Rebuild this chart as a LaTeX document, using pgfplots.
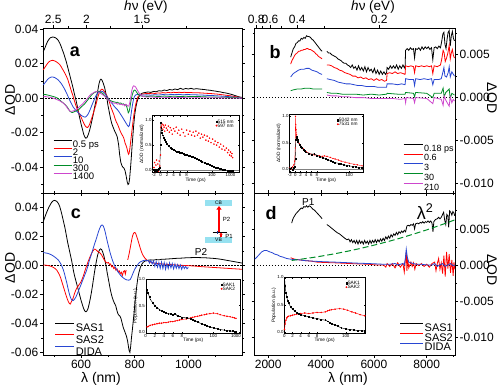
\documentclass[border=0pt]{standalone}
\usepackage{fontspec}
\setmainfont{Liberation Sans}
\usepackage{pgfplots}
\pgfplotsset{compat=1.18}
\usetikzlibrary{arrows.meta}
\definecolor{oblue}{RGB}{40,70,210}
\definecolor{ogreen}{RGB}{0,140,40}
\definecolor{omag}{RGB}{205,70,205}
\definecolor{ored}{RGB}{255,0,0}
\definecolor{bandcyan}{RGB}{150,225,240}
\newcommand{\fs}[1]{\fontsize{#1}{#1}\selectfont}
\pgfplotsset{
 mainax/.style={scale only axis, anchor=south west, axis line style={line width=0.9pt},
   every tick/.style={line width=0.7pt, black}, major tick length=3pt, minor tick length=1.8pt,
   tick align=outside, tick label style={font=\fs{12}, inner sep=1.5pt}, scaled ticks=false,
   unbounded coords=jump, every axis plot/.append style={line width=0.8pt},
   legend cell align=left,
   legend image code/.code={\draw[#1] (0pt,3.3pt) -- (18pt,3.3pt);}},
 topax/.style={scale only axis, anchor=south west, axis x line*=top, axis y line=none,
   tick align=outside, major tick length=3pt, minor tick length=1.8pt,
   every tick/.style={line width=0.7pt,black}, tick label style={font=\fs{12}, inner sep=1.2pt},
   xticklabel pos=top, axis line style={line width=0.9pt}, ymin=0, ymax=1},
 inset/.style={scale only axis, anchor=south west, axis background/.style={fill=white},
   axis line style={line width=0.4pt}, every tick/.style={line width=0.3pt, black},
   major tick length=1.2pt, tick align=inside,
   tick label style={font=\fs{4.4}, inner sep=0.6pt},
   label style={font=\fs{4.8}, inner sep=0.4pt}, xlabel={Time (ps)},
   ytick={0,0.5,1}, yticklabels={0.0,0.5,1.0},
   legend style={draw=none, fill=none, font=\fs{4.8}, at={(0.98,0.97)}, anchor=north east,
     nodes={inner sep=0.4pt, text height=3.2pt, text depth=0pt}},
   legend cell align=left},
 zl/.style={black, line width=0.8pt, dash pattern=on 1.5pt off 1.5pt, forget plot},
}
\begin{document}
\begin{tikzpicture}[x=1pt,y=1pt]
\useasboundingbox (0,0) rectangle (500,386);

% ---------------- panel a
\begin{axis}[mainax, at={(43pt,193pt)}, width=199pt, height=165pt,
  xmin=458, xmax=1200, ymin=-0.0549, ymax=0.0406,
  xtick={600,800,1000}, minor xtick={500,700,900,1100}, xticklabels={}, xtick pos=left,
  ytick={-0.04,-0.02,0,0.02,0.04}, yticklabels={-0.04,-0.02,0.00,0.02,0.04},
  minor ytick={-0.05,-0.03,-0.01,0.01,0.03}, ytick pos=both, yticklabel pos=left,
  legend style={at={(0.035,0.335)}, anchor=north west, draw=none, fill=none, font=\fs{9.5},
    nodes={text height=6.1pt, text depth=0pt, inner sep=1pt}}]
\addplot[zl] coordinates {(400,0) (1300,0)};
\addplot[black] coordinates {(459,0.027)(465,0.029)(470,0.031)(475,0.0328)(480,0.034)(485,0.0349)(490,0.0352)(495,0.0354)(500,0.0352)(505,0.0349)(510,0.0343)(515,0.0334)(520,0.032)(525,0.0302)(530,0.028)(535,0.026)(540,0.0235)(545,0.021)(550,0.018)(555,0.015)(560,0.012)(565,0.009)(570,0.006)(575,0.0025)(580,-0.0005)(585,-0.004)(590,-0.008)(595,-0.0115)(600,-0.015)(605,-0.018)(610,-0.021)(614,-0.0225)(618,-0.0232)(622,-0.0228)(627,-0.021)(632,-0.0185)(636,-0.016)(641,-0.0125)(646,-0.009)(650,-0.0055)(655,-0.002)(659,0.0015)(663,0.005)(667,0.0085)(671,0.0105)(674,0.011)(678,0.0104)(683,0.0085)(688,0.006)(692,0.003)(696,0.0003)(700,-0.004)(705,-0.008)(710,-0.012)(715,-0.015)(720,-0.017)(725,-0.019)(730,-0.0205)(735,-0.0225)(740,-0.027)(744,-0.033)(748,-0.037)(752,-0.039)(756,-0.040)(760,-0.0405)(764,-0.042)(768,-0.045)(772,-0.0485)(775,-0.0500)(778,-0.0495)(781,-0.0465)(784,-0.041)(787,-0.035)(790,-0.028)(793,-0.022)(796,-0.016)(800,-0.0095)(804,-0.0055)(808,-0.0025)(812,-0.0005)(818,0.0015)(824,0.0025)(830,0.003)(840,0.0033)(850,0.0036)(860,0.0033)(870,0.0039)(880,0.0037)(890,0.0043)(900,0.0041)(910,0.0047)(920,0.0044)(930,0.005)(940,0.0047)(950,0.0053)(960,0.0049)(970,0.0057)(980,0.0051)(990,0.0056)(1000,0.0053)(1010,0.0057)(1020,0.0052)(1030,0.0055)(1040,0.0053)(1050,0.0051)(1060,0.005)(1070,0.0047)(1080,0.0046)(1090,0.0043)(1100,0.0041)(1110,0.0038)(1120,0.0036)(1130,0.0032)(1140,0.003)(1150,0.0026)(1160,0.0022)(1170,0.0017)(1180,0.0012)(1190,0.0007)(1200,0.0004)};
\addlegendentry{0.5 ps}
\addplot[ored] coordinates {(459,0.0164)(465,0.0178)(470,0.019)(475,0.0201)(480,0.021)(485,0.0215)(490,0.0218)(495,0.0219)(500,0.0216)(505,0.0213)(510,0.0208)(515,0.0202)(520,0.0195)(525,0.0184)(530,0.017)(535,0.0157)(540,0.0143)(545,0.0127)(550,0.011)(555,0.0085)(560,0.006)(565,0.0035)(570,0.0012)(575,-0.0015)(580,-0.004)(585,-0.006)(590,-0.008)(595,-0.0095)(600,-0.011)(605,-0.0128)(610,-0.0145)(615,-0.016)(620,-0.0168)(624,-0.017)(628,-0.0164)(632,-0.015)(636,-0.0133)(640,-0.0115)(645,-0.009)(650,-0.0065)(655,-0.004)(659,-0.0015)(663,0.0008)(667,0.0028)(671,0.0042)(675,0.005)(678,0.0052)(682,0.0048)(687,0.0038)(692,0.0025)(697,0.0012)(702,-0.0005)(707,-0.003)(712,-0.0055)(717,-0.0075)(722,-0.0095)(727,-0.012)(732,-0.014)(737,-0.0155)(742,-0.0175)(747,-0.0195)(752,-0.021)(756,-0.022)(760,-0.0235)(764,-0.026)(768,-0.0275)(771,-0.029)(774,-0.031)(777,-0.0325)(779,-0.032)(782,-0.029)(785,-0.025)(788,-0.021)(791,-0.017)(794,-0.013)(797,-0.0095)(800,-0.0065)(804,-0.0035)(808,-0.001)(812,0.0008)(818,0.0018)(826,0.0023)(835,0.0025)(845,0.0027)(855,0.0026)(865,0.0029)(875,0.0027)(885,0.003)(895,0.0029)(905,0.0032)(915,0.003)(925,0.0033)(935,0.0031)(945,0.0034)(955,0.0032)(965,0.0034)(975,0.0032)(985,0.0034)(995,0.0032)(1005,0.0033)(1020,0.0031)(1035,0.0031)(1050,0.003)(1065,0.0028)(1080,0.0027)(1095,0.0025)(1110,0.0023)(1125,0.002)(1140,0.0017)(1155,0.0014)(1170,0.001)(1185,0.0006)(1200,0.0003)};
\addlegendentry{2}
\addplot[oblue] coordinates {(459,0.0077)(465,0.0088)(470,0.0098)(475,0.0108)(480,0.0115)(485,0.012)(490,0.0122)(495,0.0122)(500,0.012)(505,0.0116)(510,0.0111)(515,0.0105)(520,0.0096)(525,0.0087)(530,0.0075)(535,0.0062)(540,0.0048)(545,0.0032)(550,0.0015)(555,-0.0003)(560,-0.002)(565,-0.0035)(570,-0.005)(575,-0.006)(580,-0.007)(585,-0.0078)(590,-0.0085)(595,-0.0092)(600,-0.0099)(605,-0.0104)(610,-0.0108)(615,-0.011)(620,-0.0105)(625,-0.0095)(630,-0.008)(635,-0.0062)(640,-0.0042)(645,-0.0023)(650,-0.0005)(655,0.0013)(660,0.0026)(665,0.0034)(670,0.0039)(675,0.004)(680,0.0038)(685,0.0033)(690,0.0025)(695,0.0013)(700,0.0)(705,-0.0011)(710,-0.002)(715,-0.003)(720,-0.004)(725,-0.005)(730,-0.0058)(735,-0.0066)(740,-0.0076)(745,-0.0088)(750,-0.01)(755,-0.0112)(760,-0.0125)(765,-0.0138)(769,-0.0148)(773,-0.0158)(777,-0.0165)(780,-0.0158)(783,-0.013)(786,-0.0098)(789,-0.0065)(792,-0.0035)(795,-0.001)(799,0.001)(804,0.0019)(810,0.0021)(818,0.002)(830,0.0018)(845,0.0019)(860,0.0017)(875,0.002)(890,0.0018)(905,0.0021)(920,0.0019)(935,0.0021)(950,0.002)(965,0.0022)(980,0.0019)(995,0.0021)(1010,0.002)(1030,0.0019)(1050,0.0018)(1070,0.0016)(1090,0.0015)(1110,0.0013)(1130,0.0011)(1150,0.0009)(1170,0.0006)(1185,0.0003)(1200,0.0001)};
\addlegendentry{10}
\addplot[ogreen] coordinates {(459,0.002)(467,0.0021)(475,0.0018)(483,0.0015)(490,0.0012)(498,0.0009)(505,0.0005)(512,0.0)(520,-0.001)(527,-0.002)(535,-0.003)(542,-0.004)(548,-0.005)(553,-0.0063)(558,-0.0075)(562,-0.008)(566,-0.0083)(570,-0.0082)(575,-0.0078)(580,-0.0075)(585,-0.0072)(590,-0.0068)(595,-0.006)(600,-0.0052)(605,-0.0045)(610,-0.0038)(615,-0.003)(620,-0.002)(625,-0.001)(630,0.0)(635,0.001)(640,0.002)(645,0.0027)(650,0.0032)(655,0.0036)(660,0.0038)(665,0.0038)(670,0.0035)(675,0.0032)(680,0.0028)(685,0.002)(690,0.0012)(695,0.0003)(700,-0.0005)(706,-0.0012)(712,-0.0016)(718,-0.002)(724,-0.0022)(730,-0.0025)(736,-0.0024)(742,-0.003)(748,-0.0028)(753,-0.0035)(758,-0.0033)(762,-0.004)(766,-0.0038)(770,-0.0048)(773,-0.0065)(776,-0.0085)(779,-0.0078)(782,-0.0055)(785,-0.0025)(788,0.0)(791,0.002)(794,0.0035)(797,0.0045)(800,0.0047)(804,0.0042)(808,0.0032)(813,0.0022)(820,0.0014)(830,0.0011)(850,0.001)(870,0.0012)(890,0.0009)(910,0.0012)(930,0.001)(950,0.0011)(970,0.0009)(990,0.0011)(1010,0.0009)(1040,0.0009)(1070,0.0007)(1100,0.0006)(1130,0.0005)(1160,0.0004)(1200,0.0001)};
\addlegendentry{300}
\addplot[omag] coordinates {(459,0.0008)(467,0.0009)(475,0.0007)(483,0.0005)(490,0.0003)(498,-0.0001)(505,-0.0005)(512,-0.001)(520,-0.0015)(527,-0.0022)(535,-0.003)(542,-0.0042)(548,-0.0055)(553,-0.0066)(558,-0.0075)(563,-0.0076)(568,-0.0075)(573,-0.0073)(578,-0.007)(584,-0.0063)(590,-0.0055)(597,-0.0045)(605,-0.0035)(612,-0.0022)(620,-0.001)(626,0.0003)(632,0.0015)(638,0.0024)(645,0.003)(650,0.0035)(655,0.0038)(660,0.0037)(665,0.0035)(670,0.003)(675,0.0025)(680,0.002)(685,0.0015)(690,0.0008)(695,0.0)(700,-0.0008)(705,-0.0015)(710,-0.002)(715,-0.0025)(720,-0.0028)(725,-0.003)(730,-0.0028)(735,-0.0035)(740,-0.0032)(745,-0.0037)(750,-0.0034)(755,-0.004)(759,-0.0036)(763,-0.0045)(767,-0.0035)(771,-0.004)(775,-0.0047)(778,-0.0045)(781,-0.003)(784,-0.0005)(787,0.0025)(790,0.005)(793,0.0065)(796,0.0071)(799,0.007)(803,0.0065)(807,0.0055)(811,0.0043)(816,0.003)(822,0.0018)(830,0.001)(845,0.0006)(860,0.0007)(880,0.0004)(900,0.0006)(920,0.0003)(940,0.0005)(960,0.0003)(980,0.0004)(1000,0.0002)(1030,0.0003)(1060,0.0002)(1100,0.0002)(1150,0.0001)(1200,0.0)};
\addlegendentry{1400}
\end{axis}
\begin{axis}[topax, at={(43pt,193pt)}, width=199pt, height=165pt, xmin=458, xmax=1200,
  xtick={496,620,826.7}, xticklabels={2.5,2,1.5}, minor xtick={551.1,708.6,992}]
\end{axis}

% inset a
\begin{axis}[inset, at={(152.3pt,213.5pt)}, width=86.7pt, height=56.8pt,
  xmin=-2.5, xmax=24, ymin=-0.05, ymax=1.09,
  x filter/.expression={min(x,10)+2.4755*ln(max(x,10)/10)},
  xtick={-2,0,2,4,6,8,15.7,21.4}, xticklabels={-2,0,2,4,6,8,100,1000},
  ylabel={ΔOD (normalized)}]
\addlegendimage{only marks, mark=square*, mark size=0.7pt, black}
\addlegendentry{515 nm}
\addlegendimage{only marks, mark=*, mark size=0.7pt, ored}
\addlegendentry{597 nm}
\addplot[gray, line width=0.3pt, forget plot] coordinates {(-5,0)(3000,0)};
\addplot[ored, only marks, mark=*, mark size=0.55pt, forget plot] coordinates {(-2,0.05)(-1.8,0.15)(-1.6,-0.03)(-1.4,0.1)(-1.2,0.2)(-1.0,0.0)(-0.8,0.12)(-0.6,-0.02)(-0.4,0.18)(-0.2,0.08)(0,0.3)(0.1,0.85)(0.2,0.95)(0.3,0.88)(0.5,0.92)(0.7,0.82)(0.9,0.9)(1.1,0.86)(1.3,0.78)(1.5,0.9)(1.8,0.84)(2.1,0.8)(2.4,0.88)(2.7,0.76)(3,0.85)(3.3,0.8)(3.6,0.72)(4,0.83)(4.4,0.78)(4.8,0.86)(5.2,0.74)(5.6,0.8)(6,0.7)(6.5,0.82)(7,0.75)(7.5,0.68)(8,0.8)(8.5,0.72)(9,0.78)(9.5,0.7)(10,0.76)(12,0.68)(14,0.78)(17,0.7)(20,0.74)(24,0.64)(28,0.72)(33,0.66)(40,0.7)(48,0.6)(56,0.68)(65,0.58)(75,0.64)(90,0.55)(110,0.62)(130,0.52)(150,0.58)(180,0.5)(210,0.55)(250,0.46)(300,0.52)(350,0.42)(420,0.48)(500,0.4)(600,0.44)(700,0.35)(800,0.4)(900,0.3)(1000,0.36)(1100,0.28)(1200,0.33)(1300,0.25)};
\addplot[black, line width=0.35pt, mark=square*, mark size=0.45pt, forget plot] coordinates {(-2,0.0)(-1.7,-0.02)(-1.4,0.01)(-1.1,-0.01)(-0.8,0.0)(-0.5,0.02)(-0.2,0.05)(0,0.5)(0.1,0.95)(0.2,0.85)(0.3,0.8)(0.5,0.75)(0.7,0.7)(1,0.64)(1.3,0.6)(1.6,0.56)(2,0.52)(2.5,0.48)(3,0.45)(3.5,0.43)(4,0.41)(4.5,0.39)(5,0.37)(5.5,0.36)(6,0.35)(6.5,0.34)(7,0.32)(7.5,0.31)(8,0.3)(8.5,0.29)(9,0.28)(9.5,0.27)(10,0.26)(12,0.24)(15,0.22)(20,0.2)(25,0.18)(30,0.17)(40,0.15)(50,0.13)(60,0.12)(80,0.1)(100,0.08)(130,0.07)(160,0.05)(200,0.04)(250,0.03)(300,0.02)(400,0.01)(500,0.0)(700,-0.01)(900,-0.01)(1100,-0.02)(1300,-0.02)};
\end{axis}

% ---------------- panel b
\begin{axis}[mainax, at={(254.7pt,193pt)}, width=200.3pt, height=165pt,
  xmin=1490, xmax=9070, ymin=-0.0111, ymax=0.0081,
  xtick={2000,4000,6000,8000}, minor xtick={3000,5000,7000,9000}, xticklabels={}, xtick pos=left,
  ytick={-0.01,-0.005,0,0.005}, yticklabels={-0.010,-0.005,0.000,0.005},
  minor ytick={-0.0075,-0.0025,0.0025,0.0075}, ytick pos=both, yticklabel pos=right,
  legend style={at={(0.725,0.32)}, anchor=north west, draw=none, fill=none, font=\fs{9},
    nodes={text height=7.6pt, text depth=0pt, inner sep=1.1pt}},
  legend image code/.code={\draw[#1] (0pt,3.1pt) -- (19pt,3.1pt);}]
\addplot[zl] coordinates {(1000,0) (9500,0)};
\addplot[black] coordinates {(2850,0.0047)(2900,0.0052)(2950,0.0057)(3000,0.0059)(3050,0.0063)(3100,0.0064)(3150,0.0066)(3200,0.0066)(3250,0.0069)(3300,0.0068)(3350,0.007)(3400,0.0069)(3450,0.0072)(3500,0.0071)(3550,0.0071)(3600,0.007)(3650,0.0068)(3700,0.0067)(3750,0.0065)(3800,0.0063)(3850,0.0061)(3900,0.0059)(3950,0.0057)(4000,0.0055)(4040,0.0054)(4130,nan)(4220,0.0054)(4280,0.0052)(4340,0.0052)(4400,0.005)(4460,0.0049)(4520,0.0048)(4580,0.0047)(4640,0.0045)(4700,0.0044)(4760,0.0043)(4820,0.0041)(4880,0.004)(4940,0.004)(5000,0.0038)(5060,0.0037)(5120,0.0035)(5180,0.0038)(5240,0.0034)(5300,0.0036)(5360,0.0032)(5420,0.0037)(5480,0.0032)(5540,0.0035)(5600,0.0031)(5660,0.0036)(5720,0.003)(5780,0.0035)(5840,0.0031)(5900,0.0033)(5960,0.0029)(6020,0.0034)(6080,0.0028)(6140,0.0032)(6200,0.0027)(6260,0.0031)(6320,0.0027)(6380,0.003)(6440,0.0027)(6480,0.0029)(6500,0.0035)(6560,0.0033)(6620,0.0037)(6680,0.0034)(6740,0.0037)(6800,0.0034)(6860,0.0038)(6920,0.0033)(6980,0.0037)(7040,0.0034)(7100,0.0038)(7150,0.0035)(7180,0.0034)(7200,0.0055)(7260,0.0057)(7320,0.0055)(7380,0.0058)(7440,0.0056)(7500,0.0057)(7540,0.0046)(7580,0.0057)(7640,0.0056)(7700,0.0058)(7760,0.0055)(7820,0.0059)(7880,0.0056)(7940,0.0059)(8000,0.0057)(8060,0.0059)(8120,0.0056)(8180,0.0058)(8230,0.0044)(8280,0.0058)(8340,0.0059)(8400,0.0057)(8460,0.006)(8520,0.0058)(8570,0.0066)(8610,0.0074)(8650,0.0076)(8690,0.0062)(8730,0.0057)(8770,0.0068)(8810,0.0076)(8850,0.0078)(8890,0.006)(8930,0.0072)(8970,0.0077)(9010,0.0069)(9050,0.0066)};
\addlegendentry{0.18 ps}
\addplot[ored] coordinates {(2850,0.0039)(2900,0.0043)(2950,0.0046)(3000,0.0049)(3050,0.0051)(3100,0.0052)(3150,0.0054)(3200,0.0054)(3250,0.0055)(3300,0.0055)(3350,0.0056)(3400,0.0056)(3450,0.0057)(3500,0.0057)(3550,0.0056)(3600,0.0056)(3650,0.0055)(3700,0.0054)(3750,0.0053)(3800,0.0051)(3850,0.005)(3900,0.0048)(3950,0.0047)(4000,0.0046)(4040,0.0045)(4130,nan)(4220,0.0038)(4300,0.0038)(4400,0.0037)(4500,0.0035)(4600,0.0034)(4700,0.0032)(4800,0.0031)(4900,0.0029)(5000,0.0028)(5100,0.0027)(5200,0.0025)(5300,0.0025)(5400,0.0023)(5500,0.0024)(5600,0.0022)(5700,0.0023)(5800,0.0021)(5900,0.0022)(6000,0.002)(6100,0.0022)(6200,0.002)(6300,0.0021)(6400,0.0019)(6480,0.002)(6500,0.0028)(6600,0.0029)(6700,0.0028)(6800,0.003)(6900,0.0028)(7000,0.0029)(7100,0.0028)(7180,0.0027)(7200,0.0037)(7300,0.0036)(7400,0.0037)(7500,0.0036)(7540,0.0029)(7580,0.0037)(7700,0.0036)(7800,0.0037)(7900,0.0036)(8000,0.0037)(8100,0.0036)(8180,0.0037)(8230,0.0028)(8280,0.0037)(8400,0.0036)(8520,0.0038)(8570,0.0045)(8620,0.0055)(8660,0.0052)(8700,0.0042)(8750,0.0046)(8800,0.0052)(8850,0.0061)(8890,0.0045)(8930,0.0052)(8970,0.0056)(9010,0.0049)(9050,0.0046)};
\addlegendentry{0.6}
\addplot[oblue] coordinates {(2850,0.0024)(2950,0.0028)(3050,0.003)(3150,0.0032)(3250,0.0033)(3350,0.0033)(3450,0.0034)(3550,0.0034)(3650,0.0032)(3750,0.0031)(3850,0.003)(3950,0.0028)(4040,0.0027)(4130,nan)(4220,0.0022)(4350,0.0021)(4500,0.002)(4650,0.0018)(4800,0.0017)(4950,0.0016)(5100,0.0016)(5250,0.0015)(5400,0.0014)(5550,0.0014)(5700,0.0013)(5850,0.0013)(6000,0.0013)(6150,0.0012)(6300,0.0012)(6480,0.0012)(6500,0.0016)(6700,0.0016)(6900,0.0015)(7050,0.0016)(7180,0.0015)(7200,0.0022)(7350,0.0021)(7500,0.0021)(7540,0.0014)(7580,0.0022)(7750,0.0021)(7900,0.0022)(8050,0.0021)(8180,0.0022)(8230,0.0015)(8280,0.0021)(8450,0.0021)(8550,0.0022)(8600,0.0028)(8650,0.0035)(8690,0.0025)(8750,0.0024)(8810,0.0029)(8850,0.0036)(8890,0.0024)(8950,0.003)(9010,0.0027)(9050,0.0025)};
\addlegendentry{3}
\addplot[ogreen] coordinates {(2850,0.0008)(2950,0.0009)(3100,0.001)(3250,0.001)(3400,0.0011)(3550,0.0011)(3700,0.001)(3850,0.001)(4040,0.001)(4130,nan)(4220,0.0006)(4400,0.0005)(4600,0.0005)(4800,0.0004)(5000,0.0004)(5300,0.0004)(5600,0.0003)(5900,0.0004)(6200,0.0003)(6480,0.0004)(6500,0.0005)(6900,0.0004)(7180,0.0004)(7200,0.0006)(7500,0.0005)(7540,0.0001)(7580,0.0006)(8000,0.0005)(8230,0.0)(8280,0.0005)(8550,0.0005)(8620,0.0011)(8660,0.0001)(8720,0.0006)(8850,0.001)(8890,-0.0001)(8950,0.0005)(9050,0.0003)};
\addlegendentry{30}
\addplot[omag] coordinates {(4220,0.0003)(4400,0.0002)(4600,0.0002)(4800,0.0001)(5000,0.0001)(5300,0.0)(5600,0.0)(5900,-0.0001)(6200,-0.0001)(6480,-0.0001)(6700,-0.0001)(7000,-0.0002)(7180,-0.0001)(7200,-0.0006)(7230,0.0)(7500,-0.0001)(7540,-0.0006)(7580,0.0)(8000,-0.0001)(8230,-0.0007)(8280,0.0)(8550,-0.0002)(8620,-0.0009)(8660,0.0002)(8720,-0.0003)(8850,-0.001)(8890,0.0001)(8950,-0.0006)(9000,-0.0002)(9050,-0.0004)};
\addlegendentry{210}
\end{axis}
\begin{axis}[topax, at={(254.7pt,193pt)}, width=200.3pt, height=165pt, xmin=1490, xmax=9070,
  xtick={1550,2066.7,3100,6200}, xticklabels={0.8,0.6,0.4,0.2}, minor xtick={1771.4,2480,4133.3}]
\end{axis}

% inset b
\begin{axis}[inset, at={(289.3pt,213.3pt)}, width=73.4pt, height=58.4pt,
  xmin=-2.2, xmax=25, ymin=-0.07, ymax=1.04,
  x filter/.expression={min(x,10)+4.3429*ln(max(x,10)/10)},
  xtick={-2,0,2,4,6,8,20}, xticklabels={-2,0,2,4,6,8,100},
  ylabel={ΔOD (normalized)}]
\addlegendimage{only marks, mark=square*, mark size=0.7pt, black}
\addlegendentry{5042 nm}
\addlegendimage{only marks, mark=*, mark size=0.7pt, ored}
\addlegendentry{7531 nm}
\addplot[gray, line width=0.3pt, forget plot] coordinates {(-5,0)(3000,0)};
\addplot[ored, line width=0.35pt, mark=*, mark size=0.45pt, forget plot] coordinates {(-2,0.02)(-1.5,0.0)(-1,0.04)(-0.5,0.08)(-0.2,0.15)(0,0.4)(0.1,1.0)(0.2,0.85)(0.3,0.75)(0.5,0.65)(0.7,0.6)(1,0.55)(1.5,0.48)(2,0.44)(2.5,0.41)(3,0.38)(3.5,0.35)(4,0.33)(5,0.3)(6,0.28)(7,0.27)(8,0.26)(9,0.25)(10,0.24)(12,0.25)(15,0.24)(20,0.22)(25,0.2)(30,0.19)(40,0.17)(50,0.15)(70,0.13)(100,0.11)(150,0.09)(200,0.08)(300,0.06)};
\addplot[black, line width=0.35pt, mark=square*, mark size=0.45pt, forget plot] coordinates {(-2,0.0)(-1.5,0.02)(-1.0,-0.01)(-0.5,0.03)(-0.2,0.05)(0,0.2)(0.2,0.55)(0.4,0.62)(0.6,0.58)(0.8,0.55)(1,0.52)(1.5,0.47)(2,0.43)(2.5,0.4)(3,0.37)(3.5,0.35)(4,0.32)(5,0.3)(6,0.28)(7,0.29)(8,0.26)(9,0.24)(10,0.22)(13,0.2)(16,0.18)(20,0.16)(25,0.14)(30,0.12)(40,0.11)(50,0.1)(60,0.08)(80,0.07)(100,0.06)(130,0.05)(170,0.04)(220,0.03)(300,0.02)};
\end{axis}

% ---------------- panel c
\begin{axis}[mainax, at={(43pt,31pt)}, width=199pt, height=162pt,
  xmin=458, xmax=1200, ymin=-0.0616, ymax=0.0501,
  xtick={600,800,1000}, minor xtick={500,700,900,1100}, xticklabels={600,800,1000}, xtick pos=both, xticklabel pos=left,
  ytick={-0.06,-0.04,-0.02,0,0.02,0.04}, yticklabels={-0.06,-0.04,-0.02,0.00,0.02,0.04},
  minor ytick={-0.05,-0.03,-0.01,0.01,0.03,0.05}, ytick pos=both, yticklabel pos=left,
  legend style={at={(0.044,0.222)}, anchor=north west, draw=none, fill=none, font=\fs{11},
    nodes={text height=9.7pt, text depth=0pt, inner sep=1pt}},
  legend image code/.code={\draw[#1] (0pt,3.9pt) -- (19pt,3.9pt);}]
\addplot[zl] coordinates {(400,0) (1300,0)};
\addplot[black] coordinates {(459,0.0304)(465,0.0335)(470,0.036)(475,0.0382)(480,0.0403)(485,0.042)(490,0.0436)(495,0.0446)(500,0.045)(505,0.0448)(510,0.0442)(515,0.043)(520,0.041)(525,0.0378)(530,0.034)(535,0.03)(540,0.026)(545,0.021)(550,0.016)(555,0.0118)(560,0.0075)(565,0.0033)(571,-0.003)(575,-0.0065)(580,-0.01)(585,-0.0135)(590,-0.0168)(595,-0.0205)(600,-0.024)(605,-0.027)(610,-0.0298)(614,-0.0313)(618,-0.0318)(622,-0.0312)(626,-0.0295)(630,-0.0265)(634,-0.023)(638,-0.019)(642,-0.0145)(646,-0.0095)(650,-0.0045)(654,0.0)(658,0.004)(662,0.0075)(666,0.0098)(670,0.0112)(673,0.0116)(677,0.011)(681,0.0092)(685,0.0068)(689,0.0035)(693,0.0)(697,-0.0045)(701,-0.0085)(705,-0.0125)(709,-0.0165)(714,-0.0205)(719,-0.0235)(724,-0.0258)(729,-0.0275)(733,-0.0305)(737,-0.033)(741,-0.0342)(745,-0.0348)(749,-0.0365)(753,-0.0395)(757,-0.0425)(761,-0.0445)(765,-0.0465)(769,-0.0485)(773,-0.0515)(776,-0.055)(779,-0.0585)(782,-0.0598)(785,-0.0555)(788,-0.0495)(791,-0.0445)(794,-0.039)(797,-0.0335)(800,-0.0275)(804,-0.02)(808,-0.0135)(812,-0.008)(816,-0.0045)(821,-0.0012)(827,0.0012)(833,0.0025)(840,0.0033)(850,0.0037)(860,0.004)(870,0.0038)(880,0.0042)(890,0.004)(900,0.0044)(915,0.0045)(930,0.0047)(945,0.0049)(960,0.0051)(975,0.0052)(990,0.0054)(1005,0.0055)(1020,0.0056)(1035,0.0056)(1050,0.0055)(1065,0.0054)(1080,0.0052)(1095,0.005)(1110,0.0047)(1125,0.0043)(1140,0.0038)(1155,0.0033)(1170,0.0028)(1185,0.0023)(1200,0.0018)};
\addlegendentry{SAS1}
\addplot[ored] coordinates {(459,0.0005)(470,0.0003)(484,-0.0002)(495,-0.001)(503,-0.002)(509,-0.003)(514,-0.0045)(519,-0.0062)(524,-0.0085)(529,-0.0115)(534,-0.0145)(539,-0.0175)(544,-0.0205)(549,-0.0232)(553,-0.025)(557,-0.0262)(560,-0.0265)(563,-0.0252)(567,-0.0238)(571,-0.022)(575,-0.0195)(580,-0.017)(585,-0.0152)(590,-0.0138)(595,-0.0125)(600,-0.011)(605,-0.0088)(610,-0.0062)(615,-0.0032)(620,-0.0005)(625,0.0022)(630,0.0046)(635,0.0068)(640,0.0088)(645,0.0104)(650,0.0114)(654,0.0112)(658,0.0105)(662,0.0098)(667,0.0092)(672,0.0085)(677,0.0072)(682,0.0055)(687,0.0038)(692,0.0025)(697,0.0018)(702,0.0022)(706,0.0008)(710,0.0012)(714,-0.0008)(718,-0.0002)(722,-0.002)(726,-0.0012)(730,-0.0032)(734,-0.0022)(738,-0.0042)(742,-0.0035)(746,-0.0055)(750,-0.0045)(754,-0.0068)(758,-0.004)(762,-0.0035)(765,-0.0058)(768,-0.003)(771,nan)(774,0.004)(777,0.0065)(780,0.009)(783,0.012)(786,0.015)(789,0.018)(792,0.0205)(795,0.022)(798,0.0228)(801,0.0228)(804,0.022)(808,0.0198)(812,0.0175)(816,0.015)(820,0.0125)(824,0.0102)(828,0.0082)(833,0.0065)(838,0.0052)(843,0.0042)(848,0.0035)(855,0.0028)(862,0.0022)(870,0.0018)(880,0.0016)(895,0.0013)(910,0.001)(930,0.0008)(950,0.0005)(975,0.0002)(1000,0.0)(1025,-0.0003)(1050,-0.0007)(1075,-0.001)(1100,-0.0013)(1125,-0.0016)(1150,-0.0019)(1175,-0.0022)(1200,-0.0025)};
\addlegendentry{SAS2}
\addplot[oblue] coordinates {(459,0.009)(467,0.0088)(475,0.0085)(483,0.008)(490,0.0074)(497,0.0066)(503,0.0058)(509,0.0049)(515,0.0039)(520,0.0026)(525,0.001)(530,-0.001)(534,-0.003)(538,-0.0055)(542,-0.0085)(547,-0.012)(551,-0.0155)(555,-0.0185)(559,-0.0212)(563,-0.023)(567,-0.0239)(571,-0.024)(575,-0.0233)(580,-0.0218)(585,-0.0198)(590,-0.0175)(595,-0.0152)(600,-0.013)(605,-0.0105)(610,-0.0082)(615,-0.0058)(620,-0.0035)(625,-0.0005)(630,0.003)(635,0.0058)(640,0.0088)(645,0.0118)(650,0.0148)(655,0.0175)(660,0.0205)(665,0.0235)(670,0.026)(674,0.0275)(678,0.0281)(682,0.0276)(686,0.0258)(690,0.0232)(694,0.0198)(698,0.0165)(702,0.0135)(706,0.0105)(710,0.0078)(715,0.0048)(720,0.0022)(725,0.0)(730,-0.0018)(736,-0.0038)(742,-0.0054)(748,-0.0068)(754,-0.0079)(760,-0.0088)(766,-0.0095)(772,-0.0099)(778,-0.01)(783,-0.0096)(788,-0.0078)(793,-0.0055)(798,-0.0033)(803,-0.0015)(808,-0.0002)(813,0.0012)(818,0.0022)(823,0.0028)(828,0.0032)(834,0.0036)(840,0.0038)(845,0.0033)(850,0.0038)(855,0.0018)(860,0.0035)(865,0.0012)(870,0.0032)(875,-0.0005)(880,0.0028)(885,-0.001)(890,0.0022)(895,-0.0018)(900,0.0025)(905,-0.002)(910,0.0022)(915,-0.0025)(920,0.0015)(925,-0.002)(930,0.002)(935,-0.0015)(940,0.0015)(945,-0.0022)(950,0.0012)(955,-0.0018)(960,0.0008)(965,-0.002)(970,0.0005)(975,-0.0025)(980,0.0)(985,-0.002)(990,-0.0005)(995,-0.0022)(1000,-0.0012)};
\addlegendentry{DIDA}
\end{axis}

% inset c
\begin{axis}[inset, at={(145.7pt,52.7pt)}, width=94.8pt, height=54.3pt,
  xmin=0, xmax=21, ymin=-0.02, ymax=1.0,
  x filter/.expression={min(x,10)+2.1715*ln(max(x,10)/10)},
  xtick={0,2,4,6,8,15,20}, xticklabels={0,2,4,6,8,100,1000},
  ylabel={Population (a.u.)}]
\addlegendimage{only marks, mark=square*, mark size=0.7pt, black}
\addlegendentry{SAK1}
\addlegendimage{only marks, mark=*, mark size=0.7pt, ored}
\addlegendentry{SAK2}
\addplot[ored, line width=0.45pt, mark=*, mark size=0.5pt, forget plot] coordinates {(0.3,0.1)(0.6,0.11)(1,0.13)(1.5,0.14)(2,0.15)(2.5,0.16)(3,0.17)(3.5,0.17)(4,0.18)(4.5,0.18)(5,0.19)(5.5,0.2)(6,0.2)(6.5,0.21)(7,0.22)(7.5,0.23)(8,0.24)(9,0.25)(10,0.27)(12,0.28)(15,0.29)(20,0.3)(25,0.31)(30,0.32)(40,0.33)(50,0.34)(70,0.35)(100,0.36)(150,0.35)(200,0.33)(300,0.31)(400,0.3)(550,0.29)(700,0.28)(850,0.27)(1000,0.26)};
\addplot[black, line width=0.45pt, mark=square*, mark size=0.45pt, forget plot] coordinates {(0.3,0.8)(0.5,0.74)(0.8,0.67)(1,0.62)(1.5,0.56)(2,0.5)(2.5,0.46)(3,0.43)(3.5,0.4)(4,0.38)(4.5,0.36)(5,0.35)(5.5,0.34)(6,0.33)(6.5,0.35)(7,0.31)(7.5,0.3)(8,0.28)(9,0.27)(10,0.26)(12,0.24)(15,0.22)(20,0.19)(30,0.16)(40,0.14)(50,0.12)(70,0.1)(100,0.08)(150,0.065)(200,0.05)(300,0.04)(400,0.03)(550,0.025)(700,0.02)(850,0.018)(1000,0.015)};
\end{axis}

% ---------------- panel d
\begin{axis}[mainax, at={(254.7pt,31pt)}, width=200.3pt, height=162pt,
  xmin=1490, xmax=9070, ymin=-0.01247, ymax=0.00997,
  xtick={2000,4000,6000,8000}, minor xtick={3000,5000,7000,9000}, xticklabels={2000,4000,6000,8000}, xtick pos=both, xticklabel pos=left,
  ytick={-0.01,-0.005,0,0.005}, yticklabels={-0.010,-0.005,0.000,0.005},
  minor ytick={-0.0125,-0.0075,-0.0025,0.0025,0.0075}, ytick pos=both, yticklabel pos=right,
  legend style={at={(0.709,0.216)}, anchor=north west, draw=none, fill=none, font=\fs{11},
    nodes={text height=7.9pt, text depth=0pt, inner sep=1pt}},
  legend image code/.code={\draw[#1] (0pt,3.8pt) -- (23pt,3.8pt);}]
\addplot[zl] coordinates {(1000,0) (9500,0)};
\addplot[black] coordinates {(2890,0.0058)(2920,0.0062)(2950,0.0065)(3000,0.0068)(3050,0.0071)(3100,0.0073)(3150,0.0075)(3200,0.0077)(3250,0.0079)(3300,0.0078)(3350,0.0081)(3400,0.008)(3450,0.0082)(3500,0.008)(3550,0.0082)(3600,0.0081)(3650,0.0079)(3700,0.0077)(3750,0.0076)(3800,0.0074)(3850,0.0072)(3900,0.007)(3950,0.0068)(4000,0.0066)(4040,0.0064)(4130,nan)(4220,0.0056)(4300,0.0054)(4400,0.0051)(4500,0.0048)(4600,0.0045)(4700,0.0043)(4800,0.004)(4900,0.0037)(4980,0.0035)(5050,0.0036)(5100,0.0032)(5150,0.0035)(5200,0.0031)(5250,0.0034)(5300,0.003)(5350,0.0034)(5400,0.0029)(5450,0.0034)(5500,0.003)(5550,0.0033)(5600,0.0029)(5650,0.0034)(5700,0.003)(5750,0.0033)(5800,0.0029)(5850,0.0034)(5900,0.003)(5950,0.0034)(6000,0.0031)(6050,0.0035)(6100,0.0031)(6150,0.0035)(6200,0.0032)(6250,0.0036)(6300,0.0033)(6350,0.0037)(6400,0.0034)(6450,0.0039)(6500,0.0036)(6550,0.004)(6600,0.0037)(6650,0.0042)(6700,0.0039)(6750,0.0043)(6800,0.0041)(6850,0.0045)(6900,0.0042)(6950,0.0046)(7000,0.0044)(7050,0.0047)(7100,0.0045)(7150,0.0048)(7200,0.0046)(7250,0.0054)(7300,0.0055)(7350,0.0054)(7400,0.0056)(7450,0.0055)(7500,0.0057)(7540,0.005)(7580,0.0057)(7650,0.0058)(7700,0.0057)(7755,0.0059)(7800,0.0058)(7850,0.006)(7900,0.0058)(7950,0.006)(8000,0.0059)(8050,0.0061)(8100,0.0059)(8150,0.0061)(8200,0.0058)(8236,0.0046)(8270,0.006)(8330,0.0063)(8400,0.0064)(8450,0.0066)(8500,0.0064)(8550,0.0066)(8600,0.007)(8640,0.0073)(8680,0.0062)(8720,0.0056)(8760,0.007)(8800,0.0068)(8830,0.0052)(8866,0.0075)(8910,0.0073)(8950,0.0069)(8990,0.0074)(9030,0.0072)(9060,0.0068)};
\addlegendentry{SAS1}
\addplot[ored] coordinates {(2850,0.001)(3000,0.0008)(3200,0.0007)(3400,0.0006)(3600,0.00055)(3840,0.0004)(4100,0.00035)(4500,0.0003)(4800,0.00025)(5100,0.0002)(5400,0.00015)(5800,0.0001)(6100,0.0)(6364,0.0)(6450,-0.0003)(6500,0.0002)(6600,-0.0002)(6700,0.0002)(6800,-0.0004)(6900,0.0003)(7000,-0.0003)(7100,0.0002)(7150,-0.001)(7190,0.0006)(7225,0.0018)(7250,-0.0008)(7280,0.0009)(7320,-0.0004)(7400,0.0004)(7450,-0.0002)(7500,0.0003)(7550,-0.0006)(7600,0.0002)(7700,-0.0001)(7800,0.0002)(7900,-0.0002)(8000,0.0001)(8100,-0.0003)(8200,0.0002)(8300,0.0004)(8350,-0.0008)(8400,0.0002)(8450,0.0009)(8500,-0.0006)(8550,0.0003)(8600,-0.0012)(8650,0.0013)(8700,-0.0016)(8750,0.0018)(8800,-0.0005)(8850,0.0015)(8900,-0.0011)(8950,0.0007)(9000,-0.0015)(9030,0.0004)(9060,-0.0006)};
\addlegendentry{SAS2}
\addplot[oblue] coordinates {(1490,0.0008)(1550,0.001)(1600,0.0012)(1650,0.0014)(1700,0.0016)(1750,0.0018)(1800,0.0019)(1850,0.002)(1900,0.002)(1950,0.002)(2000,0.0019)(2070,0.0018)(2150,0.0017)(2250,0.0015)(2350,0.0014)(2450,0.0012)(2550,0.0011)(2700,0.0009)(2850,0.0008)(3000,0.00075)(3200,0.0007)(3400,0.0006)(3600,0.00055)(3840,0.0005)(4100,0.00045)(4500,0.0004)(4800,0.00035)(5100,0.0003)(5400,0.00025)(5800,0.0002)(6100,0.00015)(6364,0.0001)(6600,0.0001)(6800,0.0002)(6900,0.0)(7000,0.0001)(7100,0.0002)(7150,0.0)(7190,0.0009)(7225,0.0022)(7250,0.0015)(7280,0.0008)(7320,0.0004)(7400,0.0003)(7500,0.0002)(7600,0.0001)(7800,0.0001)(8000,0.0)(8200,0.0)(8300,0.0002)(8400,-0.0002)(8500,0.0)(8600,0.0002)(8700,-0.0002)(8800,0.0)(8900,0.0002)(9000,-0.0001)(9060,0.0)};
\addlegendentry{DIDA}
\addplot[ogreen, line width=1pt, dash pattern=on 6pt off 3pt, forget plot] coordinates {(2890,0.00063)(3500,0.00093)(4000,0.00122)(4500,0.00154)(5000,0.0019)(5500,0.0023)(6000,0.00274)(6500,0.00321)(7000,0.00372)(7500,0.00428)(8000,0.00486)(8500,0.00549)(9060,0.00624)};
\end{axis}

% inset d
\begin{axis}[inset, at={(284.3pt,52.7pt)}, width=80.7pt, height=56pt,
  xmin=0, xmax=19.7, ymin=-0.02, ymax=1.0,
  x filter/.expression={min(x,10)+2.1715*ln(max(x,10)/10)},
  xtick={0,2,4,6,8,15}, xticklabels={0,2,4,6,8,100},
  ylabel={Population (a.u.)}]
\addlegendimage{only marks, mark=square*, mark size=0.7pt, black}
\addlegendentry{SAK1}
\addlegendimage{only marks, mark=*, mark size=0.7pt, ored}
\addlegendentry{SAK2}
\addplot[ored, line width=0.45pt, mark=*, mark size=0.5pt, forget plot] coordinates {(0.05,0.05)(0.2,0.15)(0.4,0.22)(0.6,0.26)(0.8,0.28)(1,0.29)(1.5,0.3)(2,0.31)(2.5,0.32)(3,0.33)(3.5,0.33)(4,0.34)(5,0.35)(6,0.34)(7,0.35)(8,0.36)(9,0.36)(10,0.37)(13,0.39)(16,0.4)(20,0.41)(30,0.42)(50,0.43)(80,0.42)(120,0.4)(200,0.37)(300,0.35)(500,0.32)(850,0.3)};
\addplot[black, line width=0.45pt, mark=square*, mark size=0.45pt, forget plot] coordinates {(0.05,1.0)(0.2,0.85)(0.4,0.72)(0.6,0.64)(0.8,0.58)(1,0.53)(1.5,0.47)(2,0.42)(2.5,0.39)(3,0.36)(3.5,0.34)(4,0.32)(5,0.3)(6,0.28)(7,0.26)(8,0.25)(9,0.23)(10,0.22)(13,0.2)(16,0.18)(20,0.16)(30,0.13)(40,0.11)(60,0.08)(100,0.06)(150,0.05)(250,0.04)(400,0.03)(600,0.03)(850,0.02)};
\end{axis}

% ---------------- annotations
\node[font=\bfseries\fs{18}] at (75,334.3) {a};
\node[font=\bfseries\fs{18}] at (275,334.3) {b};
\node[font=\bfseries\fs{18}] at (76,172.7) {c};
\node[font=\bfseries\fs{18}] at (271,172.7) {d};
\node[font=\fs{14}, rotate=90] at (10,286) {ΔOD};
\node[font=\fs{14}, rotate=90] at (10,118) {ΔOD};
\node[font=\fs{14}, rotate=-90] at (492,288) {ΔOD};
\node[font=\fs{14}, rotate=-90] at (492,116) {ΔOD};
\node[font=\fs{13.5}] at (146,378.5) {\textit{h}ν (eV)};
\node[font=\fs{13.5}] at (373,379) {\textit{h}ν (eV)};
\node[font=\fs{14}] at (101,7.5) {λ (nm)};
\node[font=\fs{14}] at (348,7.5) {λ (nm)};
\node[font=\fs{10}] at (201,134.3) {P2};
\node[font=\fs{10}] at (308.3,184.3) {P1};
\node[font=\fs{18}] at (425,174.3) {λ\textsuperscript{2}};
% band diagram
\fill[bandcyan] (205,180) rectangle (232,186);
\fill[bandcyan] (205,143.3) rectangle (232,149.3);
\node[font=\fs{5}] at (218.5,183) {CB};
\node[font=\fs{5}] at (218.5,146.3) {VB};
\draw[black, line width=0.6pt] (212.7,153.3) -- (226.7,153.3);
\draw[ored, line width=1.8pt, -{Triangle[length=3.5pt,width=5pt]}] (219,153.8) -- (219,180);
\draw[ored, line width=1.2pt, -{Triangle[length=1.8pt,width=3pt]}] (221,149.3) -- (221,153.3);
\draw[oblue!70!black, line width=1pt] (217.3,152.5) -- (217.3,155.5);
\node[font=\fs{6}] at (226.5,167) {P2};
\node[font=\fs{6}] at (229,150) {P1};
\end{tikzpicture}
\end{document}
